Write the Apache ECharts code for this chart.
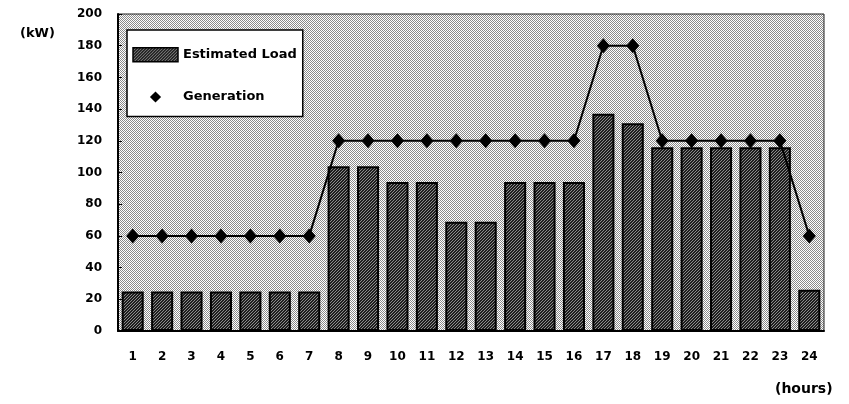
<!DOCTYPE html>
<html>
<head>
<meta charset="utf-8">
<script src="https://cdn.jsdelivr.net/npm/echarts@6/dist/echarts.min.js"></script>
<style>
  html, body { margin: 0; padding: 0; background: #fff; }
  #chart { width: 849px; height: 404px; }
</style>
</head>
<body>
<div id="chart"></div>
<script>
// Hourly demand vs. generation schedule
const hours = ['1','2','3','4','5','6','7','8','9','10','11','12','13','14','15','16','17','18','19','20','21','22','23','24'];
const estimatedLoad = [25, 25, 25, 25, 25, 25, 25, 104, 104, 94, 94, 69, 69, 94, 94, 94, 137, 131, 116, 116, 116, 116, 116, 26];
const generation = [60, 60, 60, 60, 60, 60, 60, 120, 120, 120, 120, 120, 120, 120, 120, 120, 180, 180, 120, 120, 120, 120, 120, 60];
const yTicks = { min: 0, max: 200, step: 20 };

const FONT = 'DejaVu Sans';

// Stippled grey fill for the plotting area (checker of grey dots on white)
function stipple() {
  const c = document.createElement('canvas');
  c.width = 2; c.height = 2;
  const g = c.getContext('2d');
  g.fillStyle = '#ffffff';
  g.fillRect(0, 0, 2, 2);
  g.fillStyle = '#8a8a8a';
  g.fillRect(0, 0, 1, 1);
  g.fillRect(1, 1, 1, 1);
  return { image: c, repeat: 'repeat' };
}

// Dark cross-hatched fill for the load bars
function hatch() {
  const c = document.createElement('canvas');
  c.width = 6; c.height = 6;
  const g = c.getContext('2d');
  g.fillStyle = '#1e1e1e';
  g.fillRect(0, 0, 6, 6);
  g.fillStyle = '#8c8c8c';
  for (let i = 0; i < 6; i++) {
    g.fillRect((5 - i + 6) % 6, i, 1, 1);
    g.fillRect((8 - i + 6) % 6, i, 1, 1);
  }
  return { image: c, repeat: 'repeat' };
}

const chart = echarts.init(document.getElementById('chart'), null, { renderer: 'canvas' });

const barFill = hatch();

chart.setOption({
  animation: false,
  backgroundColor: '#ffffff',
  textStyle: { fontFamily: FONT, fontWeight: 'bold', color: '#000' },
  grid: {
    left: 118, right: 25, top: 14, bottom: 73,
    show: true,
    backgroundColor: stipple(),
    borderColor: '#222',
    borderWidth: 1
  },
  legend: {
    orient: 'vertical',
    left: 127, top: 30,
    backgroundColor: '#ffffff',
    borderColor: '#000',
    borderWidth: 1.5,
    borderRadius: 0,
    padding: [17, 6, 13, 5],
    itemWidth: 45,
    itemHeight: 14,
    itemGap: 28,
    textStyle: { fontFamily: FONT, fontWeight: 'bold', fontSize: 13, color: '#000' },
    data: [
      { name: 'Estimated Load', icon: 'rect', itemStyle: { color: barFill, borderColor: '#000', borderWidth: 1.5 } },
      { name: 'Generation', itemStyle: { color: '#000' }, lineStyle: { color: 'rgba(0,0,0,0)' } }
    ]
  },
  xAxis: {
    type: 'category',
    data: hours,
    boundaryGap: true,
    axisLine: { lineStyle: { color: '#000', width: 2 } },
    axisTick: { show: false },
    axisLabel: { fontFamily: FONT, fontWeight: 'bold', fontSize: 12, color: '#000', margin: 20, interval: 0 },
    splitLine: { show: false }
  },
  yAxis: {
    type: 'value',
    min: yTicks.min, max: yTicks.max, interval: yTicks.step,
    axisLine: { show: true, lineStyle: { color: '#000', width: 2 } },
    axisTick: { show: true, inside: true, length: 4, lineStyle: { color: '#000' } },
    axisLabel: { fontFamily: FONT, fontWeight: 'bold', fontSize: 12, color: '#000', margin: 16 },
    splitLine: { show: false }
  },
  graphic: [
    { type: 'text', left: 20, top: 27, style: { text: '(kW)', font: 'bold 13px "DejaVu Sans"', fill: '#000' } },
    { type: 'text', left: 775, top: 382, style: { text: '(hours)', font: 'bold 14px "DejaVu Sans"', fill: '#000' } }
  ],
  series: [
    {
      name: 'Estimated Load',
      type: 'bar',
      data: estimatedLoad,
      barCategoryGap: '25%',
      itemStyle: { color: barFill, borderColor: '#000', borderWidth: 2 },
      z: 2
    },
    {
      name: 'Generation',
      type: 'line',
      data: generation,
      symbol: 'diamond',
      symbolSize: [13, 15],
      showSymbol: true,
      itemStyle: { color: '#000' },
      lineStyle: { color: '#000', width: 2 },
      z: 3
    }
  ]
});
</script>
</body>
</html>
